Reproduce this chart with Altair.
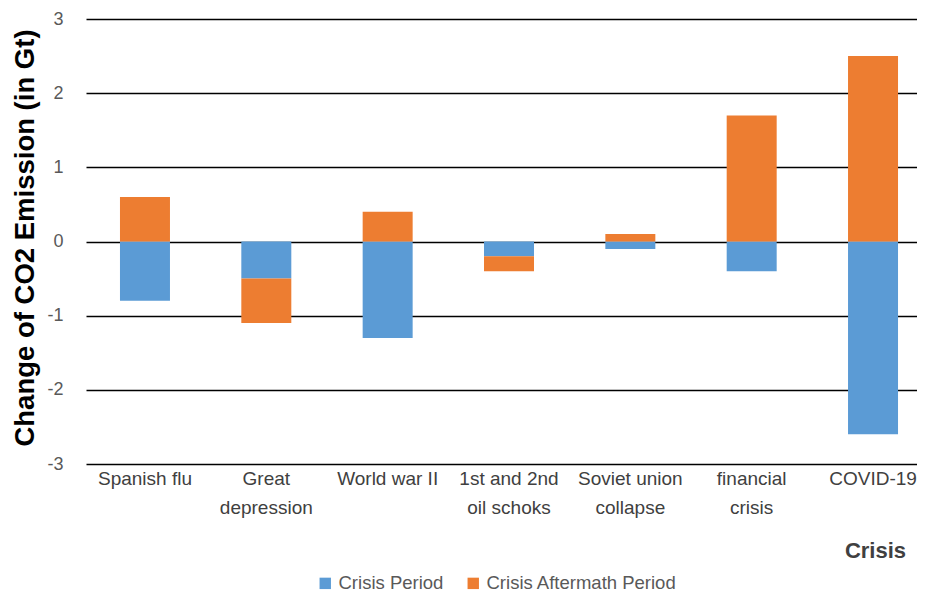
import altair as alt
import pandas as pd

categories = ["Spanish flu", "Great depression", "World war II", "1st and 2nd oil schoks",
              "Soviet union collapse", "financial crisis", "COVID-19"]
label_lines = [["Spanish flu"], ["Great", "depression"], ["World war II"],
               ["1st and 2nd", "oil schoks"], ["Soviet union", "collapse"],
               ["financial", "crisis"], ["COVID-19"]]
crisis_period = [-0.8, -0.5, -1.3, -0.2, -0.1, -0.4, -2.6]
aftermath_period = [0.6, -0.6, 0.4, -0.2, 0.1, 1.7, 2.5]
series = ["Crisis Period", "Crisis Aftermath Period"]
colors = ["#5B9BD5", "#ED7D31"]
y_ticks = [-3, -2, -1, 0, 1, 2, 3]

rows = []
for c, a, b in zip(categories, crisis_period, aftermath_period):
    rows.append({"crisis": c, "series": series[0], "value": a, "ord": 0})
    rows.append({"crisis": c, "series": series[1], "value": b, "ord": 1})
df = pd.DataFrame(rows)

expr = ""
for c, lines in zip(categories, label_lines):
    arr = "[" + ",".join("'" + l + "'" for l in lines) + "]"
    expr += f"datum.label == '{c}' ? {arr} : "
expr += "datum.label"

font = "Liberation Sans, Arial"

chart = alt.Chart(df).mark_bar().encode(
    x=alt.X("crisis:N", sort=categories,
            scale=alt.Scale(range=[0, 846], paddingInner=0.588, paddingOuter=0.28),
            axis=alt.Axis(title="Crisis", labelAngle=0, labelExpr=expr,
                          labelFont=font, labelFontSize=19, labelColor="#404040",
                          labelLineHeight=29.5, labelBaseline="top", labelPadding=5,
                          ticks=False, domain=False, grid=False,
                          titleFont=font, titleFontSize=22,
                          titleFontWeight="bold", titleColor="#404040",
                          titleX=789, titleY=86, titleAlign="center",
                          titleBaseline="middle")),
    y=alt.Y("value:Q", stack="zero",
            scale=alt.Scale(domain=[-3, 3], nice=False),
            axis=alt.Axis(title="Change of CO2 Emission (in Gt)", values=y_ticks,
                          labelExpr="toString(datum.value)",
                          labelFont=font, labelFontSize=18,
                          labelColor="#595959", labelPadding=23, ticks=False,
                          domain=False, gridColor="#000000", gridWidth=1.5,
                          titleFont=font, titleFontSize=27.5,
                          titleFontWeight="bold", titleColor="#000000",
                          titleX=-61, titleY=218.5, titleAngle=-90,
                          titleAlign="center", titleBaseline="middle")),
    color=alt.Color("series:N", sort=series,
                    scale=alt.Scale(domain=series, range=colors),
                    legend=alt.Legend(title=None, orient="none", direction="horizontal",
                                      legendX=230, legendY=555, symbolType="square",
                                      symbolSize=130, symbolStrokeWidth=0,
                                      labelFont=font, labelFontSize=18.5,
                                      labelColor="#595959", columnPadding=20,
                                      labelLimit=400,
                                      symbolOffset=0, labelOffset=4)),
    order=alt.Order("ord:Q"),
).properties(
    width=831, height=445,
    autosize=alt.AutoSizeParams(type="none"),
    padding={"left": 78, "top": 11, "right": 0, "bottom": 128},
).configure_view(stroke=None)

chart.save("out.html", embed_options={"renderer": "svg", "actions": False})
